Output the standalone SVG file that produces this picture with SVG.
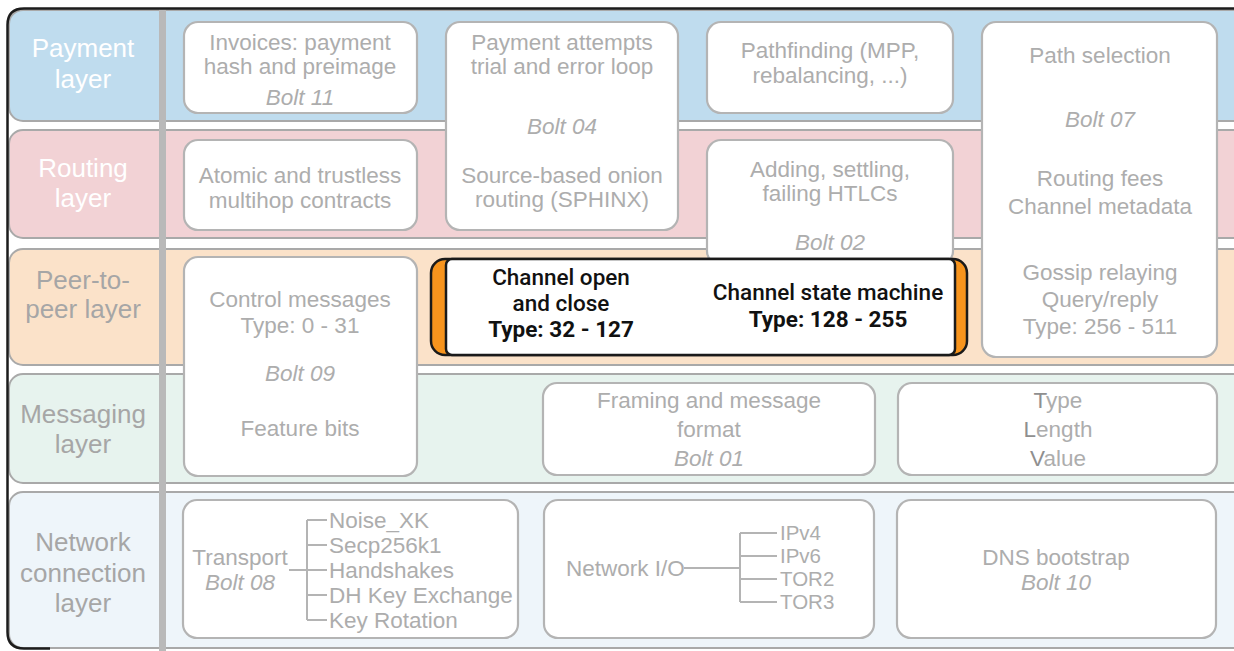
<svg xmlns="http://www.w3.org/2000/svg" width="1234" height="651" viewBox="0 0 1234 651">
<style>
.band{stroke:#a9a9a9;stroke-width:2}
.node{fill:#fff;stroke:#b4b4b4;stroke-width:2.2}
.t{font-family:"Liberation Sans",Arial,sans-serif;font-size:22.5px;fill:#adadad;text-anchor:middle}
.s{text-anchor:start}
.sm{font-size:20.5px}
.i{font-style:italic}
.lbl{font-family:"Liberation Sans",Arial,sans-serif;font-size:26px;text-anchor:middle}
.w{fill:#ffffff}
.g{fill:#a6a6a6}
.ch{font-family:Roboto,"Liberation Sans",Arial,sans-serif;font-size:22.5px;font-weight:500;fill:#111;text-anchor:middle}
.b{font-weight:700}
.dk{fill:#8f8f8f}
.conn{stroke:#b4b4b4;stroke-width:2;fill:none}
</style>
<rect width="1234" height="651" fill="#ffffff"/>
<g id="band-payment">
<rect class="band" x="9" y="10" width="1260" height="111" rx="14" fill="#bfdcee"/>
<text class="lbl w" x="83" y="57">Payment</text>
<text class="lbl w" x="83" y="88">layer</text>
</g>
<g id="band-routing">
<rect class="band" x="9" y="130" width="1260" height="108" rx="14" fill="#f2d2d5"/>
<text class="lbl w" x="83" y="177">Routing</text>
<text class="lbl w" x="83" y="207">layer</text>
</g>
<g id="band-peer">
<rect class="band" x="9" y="249" width="1260" height="116" rx="14" fill="#fbe2c9"/>
<text class="lbl g" x="83" y="289">Peer-to-</text>
<text class="lbl g" x="83" y="318">peer layer</text>
</g>
<g id="band-messaging">
<rect class="band" x="9" y="374" width="1260" height="109" rx="14" fill="#e7f3ee"/>
<text class="lbl g" x="83" y="423">Messaging</text>
<text class="lbl g" x="83" y="453">layer</text>
</g>
<g id="band-network">
<rect class="band" x="9" y="492" width="1260" height="156" rx="14" fill="#eef5fa"/>
<text class="lbl g" x="83" y="551">Network</text>
<text class="lbl g" x="83" y="582">connection</text>
<text class="lbl g" x="83" y="612">layer</text>
</g>
<rect id="divider" x="159" y="8" width="7" height="643" fill="#b9b9b9"/>
<path id="frame" d="M1234,8.5 H24 Q7.5,8.5 7.5,25 V632 Q7.5,648.5 24,648.5 H50" fill="none" stroke="#1c1c1c" stroke-width="2.5"/>

<g id="invoices">
<rect class="node" x="184" y="22" width="233" height="91" rx="14"/>
<text class="t" x="300" y="50">Invoices: payment</text>
<text class="t" x="300" y="74">hash and preimage</text>
<text class="t i" x="300" y="105">Bolt 11</text>
</g>
<g id="attempts">
<rect class="node" x="446" y="22" width="232" height="208" rx="14"/>
<text class="t" x="562" y="50">Payment attempts</text>
<text class="t" x="562" y="74">trial and error loop</text>
<text class="t i" x="562" y="134">Bolt 04</text>
<text class="t" x="562" y="183">Source-based onion</text>
<text class="t" x="562" y="207">routing (SPHINX)</text>
</g>
<g id="pathfinding">
<rect class="node" x="707" y="22" width="246" height="91" rx="14"/>
<text class="t" x="830" y="58">Pathfinding (MPP,</text>
<text class="t" x="830" y="83">rebalancing, ...)</text>
</g>
<g id="pathselection">
<rect class="node" x="982" y="22" width="235" height="335" rx="14"/>
<text class="t" x="1100" y="63">Path selection</text>
<text class="t i" x="1100" y="127">Bolt 07</text>
<text class="t" x="1100" y="186">Routing fees</text>
<text class="t" x="1100" y="214">Channel metadata</text>
<text class="t" x="1100" y="280">Gossip relaying</text>
<text class="t" x="1100" y="307">Query/reply</text>
<text class="t" x="1100" y="334">Type: 256 - 511</text>
</g>
<g id="atomic">
<rect class="node" x="184" y="140" width="233" height="90" rx="14"/>
<text class="t" x="300" y="183">Atomic and trustless</text>
<text class="t" x="300" y="208">multihop contracts</text>
</g>
<g id="htlcs">
<rect class="node" x="707" y="140" width="246" height="125" rx="14"/>
<text class="t" x="830" y="177">Adding, settling,</text>
<text class="t" x="830" y="201">failing HTLCs</text>
<text class="t i" x="830" y="250">Bolt 02</text>
</g>
<g id="channel">
<rect x="431" y="259" width="536" height="96" rx="14" fill="#f7941d" stroke="#1a1a1a" stroke-width="2.5"/>
<rect x="446" y="259" width="509" height="96" rx="6" fill="#ffffff" stroke="#1a1a1a" stroke-width="2.5"/>
<text class="ch" x="561" y="285">Channel open</text>
<text class="ch" x="561" y="311">and close</text>
<text class="ch b" x="561" y="337">Type: 32 - 127</text>
<text class="ch" x="828" y="300">Channel state machine</text>
<text class="ch b" x="828" y="327">Type: 128 - 255</text>
</g>
<g id="control">
<rect class="node" x="184" y="257" width="233" height="219" rx="14"/>
<text class="t" x="300" y="307">Control messages</text>
<text class="t" x="300" y="333">Type: 0 - 31</text>
<text class="t i" x="300" y="381">Bolt 09</text>
<text class="t" x="300" y="436">Feature bits</text>
</g>
<g id="framing">
<rect class="node" x="543" y="383" width="332" height="92" rx="14"/>
<text class="t" x="709" y="408">Framing and message</text>
<text class="t" x="709" y="437">format</text>
<text class="t i" x="709" y="466">Bolt 01</text>
</g>
<g id="tlv">
<rect class="node" x="898" y="383" width="319" height="92" rx="14"/>
<text class="t" x="1058" y="408"><tspan class="dk">T</tspan>ype</text>
<text class="t" x="1058" y="437"><tspan class="dk">L</tspan>ength</text>
<text class="t" x="1058" y="466"><tspan class="dk">V</tspan>alue</text>
</g>
<g id="transport">
<rect class="node" x="183" y="500" width="335" height="138" rx="14"/>
<text class="t" x="240" y="565">Transport</text>
<text class="t i" x="240" y="590">Bolt 08</text>
<text class="t s" x="329" y="528">Noise_XK</text>
<text class="t s" x="329" y="553">Secp256k1</text>
<text class="t s" x="329" y="578">Handshakes</text>
<text class="t s" x="329" y="603">DH Key Exchange</text>
<text class="t s" x="329" y="628">Key Rotation</text>
</g>
<g id="networkio">
<rect class="node" x="544" y="500" width="330" height="138" rx="14"/>
<text class="t s" x="566" y="576">Network I/O</text>
<text class="t s sm" x="780" y="540">IPv4</text>
<text class="t s sm" x="780" y="563">IPv6</text>
<text class="t s sm" x="780" y="586">TOR2</text>
<text class="t s sm" x="780" y="609">TOR3</text>
</g>
<g id="dns">
<rect class="node" x="897" y="500" width="319" height="138" rx="14"/>
<text class="t" x="1056" y="565">DNS bootstrap</text>
<text class="t i" x="1056" y="590">Bolt 10</text>
</g>
<g id="connectors">
<path class="conn" d="M289,570 H307 M307,520 V620 M307,520 H327 M307,545 H327 M307,570 H327 M307,595 H327 M307,620 H327"/>
<path class="conn" d="M684,568 H740 M740,533 V602 M740,533 H777 M740,556 H777 M740,579 H777 M740,602 H777"/>
</g>
</svg>
